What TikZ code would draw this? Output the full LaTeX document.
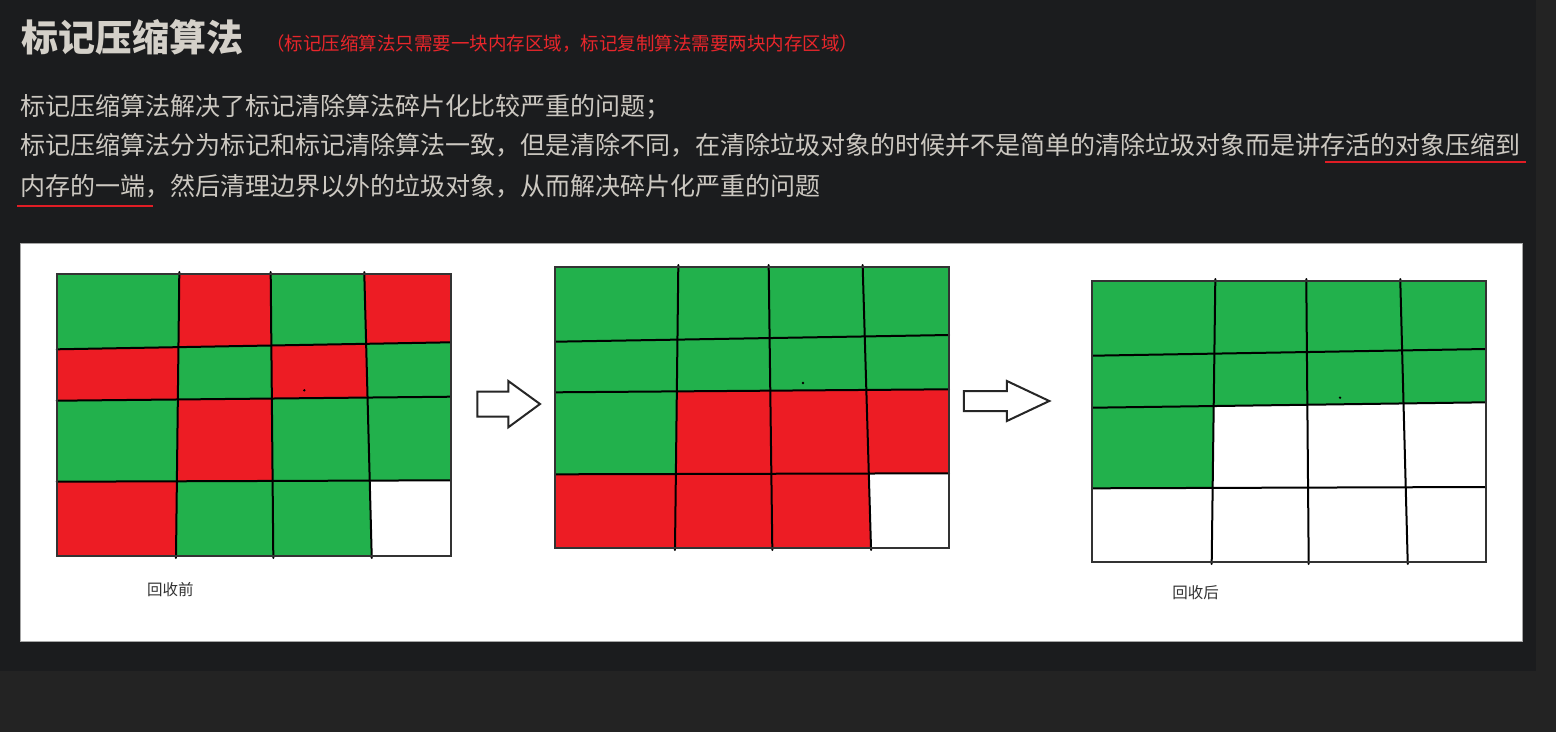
\documentclass[tikz,border=0pt]{standalone}
\usepackage{fontspec}
\newfontfamily\cjk{Noto Sans CJK SC}
\definecolor{pagebg}{HTML}{1B1C1E}
\definecolor{outerbg}{HTML}{232323}
\definecolor{txt}{HTML}{CCC8C1}
\definecolor{ttl}{HTML}{D4D0C9}
\definecolor{subred}{HTML}{E8262B}
\definecolor{ulred}{HTML}{E11D25}
\definecolor{cg}{HTML}{22B14C}
\definecolor{cr}{HTML}{ED1C24}
\definecolor{cw}{HTML}{FFFFFF}
\tikzset{
  gline/.style={black, line width=2pt, line cap=round},
  gborder/.style={black!80, line width=2pt, line join=miter},
  blockarrow/.style={draw=black!85, fill=white, line width=2pt, line join=miter},
  bodytext/.style={anchor=base west, inner sep=0pt, text=txt, font=\cjk\fontsize{25}{25}\selectfont},
  lbl/.style={inner sep=0pt, text=black!80, font=\cjk\fontsize{15.5}{15.5}\selectfont},
  uline/.style={ulred, line width=2pt}
}
% corners of a hand-drawn 4x4 grid
\newcommand\gridcorners[7]{%
  \foreach [count=\i] \xt/\xb in {#4}{
    \foreach [count=\j] \yl/\yr in {#7}{
      \pgfmathsetmacro\gB{(\xb-\xt)/(#3-#2)}
      \pgfmathsetmacro\gA{\xt-\gB*#2}
      \pgfmathsetmacro\gD{(\yr-\yl)/(#6-#5)}
      \pgfmathsetmacro\gC{\yl-\gD*#5}
      \pgfmathsetmacro\gpx{(\gA+\gB*\gC)/(1-\gB*\gD)}
      \pgfmathsetmacro\gpy{\gC+\gD*\gpx}
      \coordinate (#1-\i-\j) at (\gpx,\gpy);
    }
  }
}
\newcommand\fillgrid[2]{%
  \foreach [count=\j] \row in {#2}{
    \pgfmathtruncatemacro\jn{\j+1}
    \foreach [count=\i] \c in \row {
      \pgfmathtruncatemacro\inn{\i+1}
      \fill[fill=\c] (#1-\i-\j) -- (#1-\inn-\j) -- (#1-\inn-\jn) -- (#1-\i-\jn) -- cycle;
    }
  }
  \foreach \i in {2,3,4} \draw[gline, shorten <=-2pt, shorten >=-2pt] (#1-\i-1) -- (#1-\i-5);
  \foreach \j in {2,3,4} \draw[gline] (#1-1-\j) -- (#1-5-\j);
  \draw[gborder] (#1-1-1) -- (#1-5-1) -- (#1-5-5) -- (#1-1-5) -- cycle;
}
\begin{document}
\begin{tikzpicture}[x=1pt,y=-1pt]
\useasboundingbox (0,0) rectangle (1556,732);
\fill[outerbg] (0,0) rectangle (1556,732);
\fill[pagebg] (0,0) rectangle (1536,670.7);

% heading
\node[anchor=base west, inner sep=0pt, text=ttl, font=\cjk\bfseries\fontsize{37}{37}\selectfont] (title) at (21,51.5) {标记压缩算法};
\node[anchor=base west, inner sep=0pt, text=subred, font=\cjk\fontsize{18.5}{18.5}\selectfont] (sub) at (266,50) {（标记压缩算法只需要一块内存区域，标记复制算法需要两块内存区域）};

% body text
\node[bodytext] (l1) at (20,115.5) {标记压缩算法解决了标记清除算法碎片化比较严重的问题；};
\node[bodytext] (l2) at (20,154.5) {标记压缩算法分为标记和标记清除算法一致，但是清除不同，在清除垃圾对象的时候并不是简单的清除垃圾对象而是讲存活的对象压缩到};
\node[bodytext] (l3) at (20,195.5) {内存的一端，然后清理边界以外的垃圾对象，从而解决碎片化严重的问题};
\draw[uline] (1325,162) -- (1525.7,162);
\draw[uline] (17.3,206) -- (153.3,206);

% white panel
\filldraw[fill=white, draw=gray!70, line width=1pt] (20,243) rectangle (1522,641);

% grid 1 (before)
\gridcorners{ga}{274}{556}{56.7/56.7,179.3/176,270.7/273.3,364.3/371.7,450.7/450.7}{56.7}{450.7}{274/274,349.3/342.3,400.7/396.7,481.7/480.3,556/556}
\fillgrid{ga}{{cg,cr,cg,cr},{cr,cg,cr,cg},{cg,cr,cg,cg},{cr,cg,cg,cw}}
\fill (304.3,390.3) circle (1.3);

% grid 2 (marked and compacted)
\gridcorners{gb}{267}{548}{555/555,678.3/675,768.7/772.3,862.7/871,949/949}{555}{949}{267/267,341.7/335,392.3/389.3,474.3/473.3,548/548}
\fillgrid{gb}{{cg,cg,cg,cg},{cg,cg,cg,cg},{cg,cr,cr,cr},{cr,cr,cr,cw}}
\fill (803,383) circle (1.3);

% grid 3 (after)
\gridcorners{gc}{281}{562}{1092.3/1092.3,1215.3/1211.7,1306.3/1308.7,1400.3/1407.7,1485.7/1485.7}{1092.3}{1485.7}{281/281,355.7/349,407.7/402.3,488.3/487,562/562}
\fillgrid{gc}{{cg,cg,cg,cg},{cg,cg,cg,cg},{cg,cw,cw,cw},{cw,cw,cw,cw}}
\fill (1340,397.7) circle (1.3);

% block arrows
\draw[blockarrow] (477.3,391.7) -- (508.3,391.7) -- (508.3,381) -- (540,404) -- (508.3,427.3) -- (508.3,416.7) -- (477.3,416.7) -- cycle;
\draw[blockarrow] (963.9,391) -- (1006.9,391) -- (1006.9,381) -- (1049.3,401) -- (1006.9,421) -- (1006.9,411) -- (963.9,411) -- cycle;

% labels
\node[lbl] (before) at (170.4,590) {回收前};
\node[lbl] (after) at (1195.5,593) {回收后};
\end{tikzpicture}
\end{document}
